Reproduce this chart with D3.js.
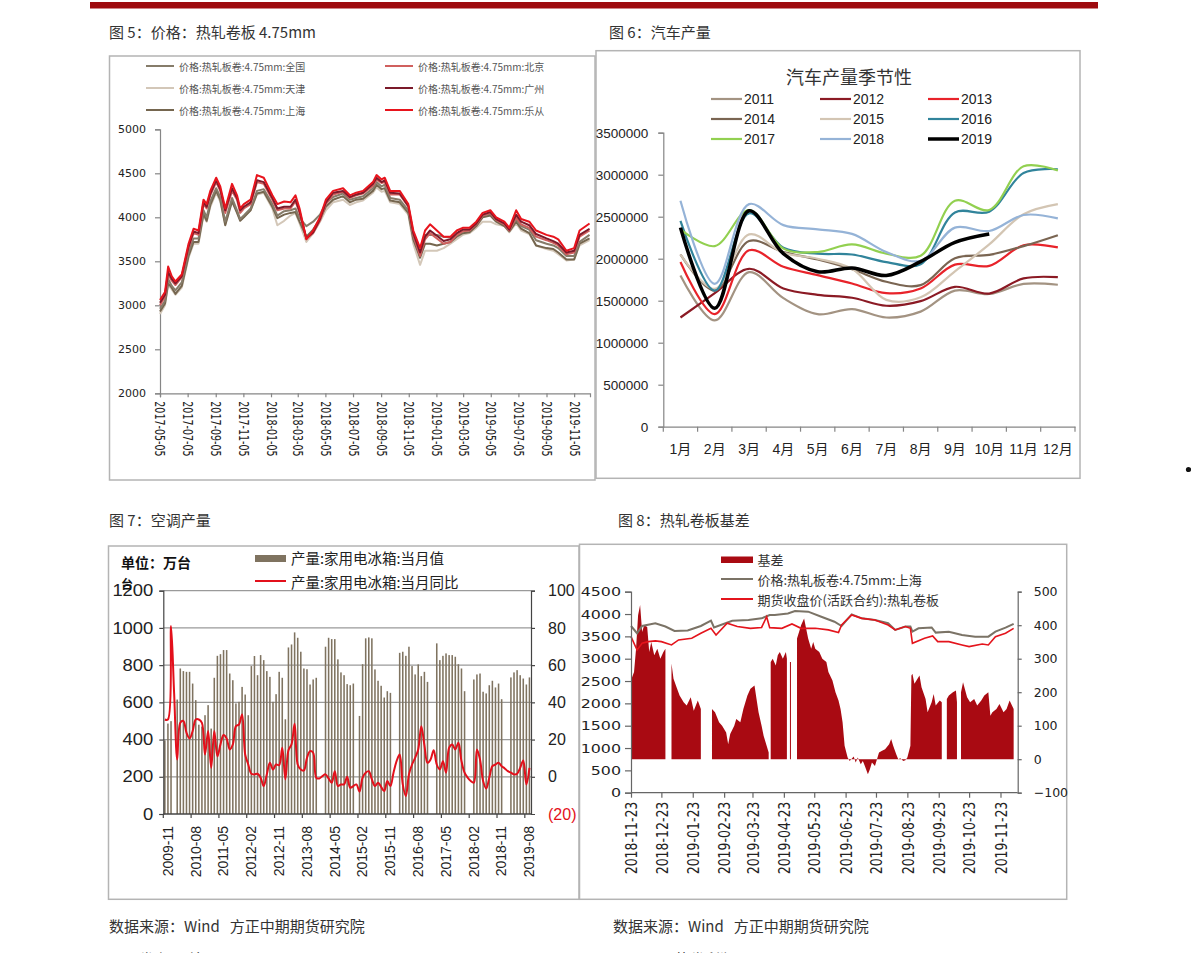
<!DOCTYPE html>
<html><head><meta charset="utf-8">
<script src="https://cdn.jsdelivr.net/npm/d3@7"></script>
<style>body{margin:0;background:#fff;}svg{display:block;}</style>
</head><body><svg id="c" width="1191" height="953"></svg>
<script>
// ---------------- DATA ----------------
// Fig 5: HRC 4.75mm prices
const p1Dates = ['2017-05-05','2017-05-16','2017-05-23','2017-05-31','2017-06-08','2017-06-22','2017-07-07','2017-07-18','2017-07-29','2017-08-09','2017-08-16','2017-08-24','2017-09-06','2017-09-15','2017-09-26','2017-10-11','2017-10-22','2017-10-29','2017-11-06','2017-11-21','2017-12-05','2017-12-20','2018-01-08','2018-01-19','2018-02-03','2018-02-17','2018-02-28','2018-03-09','2018-03-24','2018-04-08','2018-04-23','2018-05-06','2018-05-22','2018-06-13','2018-06-28','2018-07-12','2018-07-27','2018-08-18','2018-08-26','2018-09-06','2018-09-13','2018-09-25','2018-10-16','2018-11-04','2018-11-15','2018-11-30','2018-12-11','2018-12-22','2019-01-06','2019-01-21','2019-02-05','2019-02-19','2019-03-04','2019-03-19','2019-04-03','2019-04-17','2019-05-04','2019-05-17','2019-06-04','2019-06-15','2019-06-30','2019-07-11','2019-07-29','2019-08-13','2019-09-05','2019-09-20','2019-10-01','2019-10-19','2019-11-05','2019-11-17','2019-12-09'];
const p1Lecong  = [3060,3150,3440,3330,3270,3350,3700,3870,3850,4200,4150,4300,4450,4350,4100,4380,4250,4100,4150,4200,4480,4450,4250,4150,4180,4170,4250,4100,3750,3850,4000,4200,4300,4330,4250,4280,4300,4400,4480,4430,4450,4300,4300,4150,3850,3650,3850,3920,3850,3780,3780,3850,3880,3880,3950,4050,4080,4000,3950,3880,4080,3980,3950,3850,3800,3780,3750,3620,3650,3850,3930];
const p1Beijing = [3000,3100,3350,3280,3230,3320,3650,3820,3800,4150,4100,4250,4400,4300,4050,4300,4200,4050,4100,4150,4400,4380,4200,4080,4100,4100,4180,4050,3760,3820,3960,4150,4260,4290,4220,4250,4270,4360,4430,4390,4400,4260,4260,4120,3800,3560,3750,3820,3760,3700,3720,3800,3840,3850,3920,4020,4050,3970,3920,3850,4000,3920,3880,3780,3740,3710,3680,3580,3600,3780,3850];
const p1Guangzhou=[3030,3120,3380,3300,3250,3330,3670,3840,3820,4170,4120,4270,4420,4320,4080,4330,4220,4080,4120,4170,4420,4400,4220,4100,4120,4120,4200,4070,3760,3830,3980,4170,4280,4300,4230,4260,4280,4380,4450,4400,4420,4280,4270,4130,3820,3600,3780,3850,3790,3730,3750,3820,3860,3860,3930,4030,4060,3980,3930,3860,4030,3950,3910,3810,3760,3730,3700,3600,3620,3800,3870];
const p1National= [2960,3050,3300,3220,3170,3260,3600,3760,3760,4080,4000,4180,4330,4230,3950,4220,4080,3980,4020,4100,4300,4320,4150,4020,4070,4080,4100,3990,3900,3950,4030,4160,4230,4270,4200,4220,4240,4330,4400,4350,4370,4220,4200,4080,3780,3580,3800,3800,3800,3780,3770,3800,3840,3850,3930,4020,4040,3970,3920,3860,3980,3900,3860,3740,3700,3680,3650,3560,3560,3720,3800];
const p1Shanghai= [2930,3020,3250,3200,3130,3220,3560,3720,3720,4040,3960,4140,4300,4200,3910,4180,4050,3960,4000,4080,4270,4290,4120,3990,4030,4050,4060,3950,3780,3860,3980,4120,4200,4240,4170,4200,4210,4300,4370,4320,4330,4190,4170,4050,3750,3540,3700,3700,3680,3700,3720,3780,3820,3830,3900,4000,4020,3950,3900,3840,3950,3870,3820,3680,3650,3640,3600,3520,3520,3700,3760];
const p1Tianjin = [2900,3000,3230,3180,3120,3200,3540,3700,3700,4020,3950,4120,4280,4180,3920,4200,4060,3970,4010,4080,4260,4280,4100,3910,3960,4020,4050,3930,3720,3820,3950,4080,4170,4200,4140,4170,4190,4280,4340,4290,4300,4170,4150,4030,3700,3460,3620,3620,3620,3650,3700,3750,3800,3820,3880,3950,3950,3920,3900,3830,3930,3850,3810,3680,3640,3620,3580,3510,3520,3680,3740];
const p1XTicks = ['2017-05-05','2017-07-05','2017-09-05','2017-11-05','2018-01-05','2018-03-05','2018-05-05','2018-07-05','2018-09-05','2018-11-05','2019-01-05','2019-03-05','2019-05-05','2019-07-05','2019-09-05','2019-11-05'];
const p1YTicks = [2000,2500,3000,3500,4000,4500,5000];

// Fig 6: car production seasonality
const p2Months = ['1月','2月','3月','4月','5月','6月','7月','8月','9月','10月','11月','12月'];
const car2011 = [1800000,1265000,1840000,1530000,1340000,1400000,1300000,1370000,1620000,1580000,1700000,1690000];
const car2012 = [1300000,1590000,1880000,1645000,1570000,1535000,1440000,1495000,1665000,1585000,1765000,1780000];
const car2013 = [1960000,1340000,2100000,1905000,1805000,1705000,1590000,1645000,1930000,1915000,2160000,2135000];
const car2014 = [2050000,1620000,2210000,2080000,1990000,1875000,1725000,1685000,2005000,2045000,2150000,2280000];
const car2015 = [2050000,1640000,2290000,2070000,2000000,1880000,1510000,1540000,1850000,2170000,2530000,2650000];
const car2016 = [2450000,1620000,2540000,2130000,2060000,2050000,1960000,1935000,2550000,2560000,3020000,3065000];
const car2017 = [2350000,2150000,2580000,2120000,2080000,2170000,2060000,2035000,2690000,2580000,3100000,3050000];
const car2018 = [2690000,1700000,2650000,2400000,2350000,2295000,2080000,1975000,2370000,2330000,2520000,2480000];
const car2019 = [2370000,1410000,2570000,2060000,1845000,1890000,1800000,1965000,2195000,2295000];
const p2YTicks = [0,500000,1000000,1500000,2000000,2500000,3000000,3500000];

// Fig 7: refrigerator production (monthly from 2009-11)
const p3Start = '2009-11';
const p3Bars = [396,486,499,null,615,782,768,764,764,701, 612,480,470,531,585,459,732,850,859,881, 881,755,719,594,603,683,642,531,795,849, 746,854,827,768,737,603,644,764,732,509, 895,911,976,947,872,782,778,696,723,732, null,null,899,947,940,940,831,761,746,698, 692,701,null,527,805,944,949,944,777,716, 689,626,660,651,null,null,866,872,850,899, 795,750,804,741,764,710,null,null,917,827, 850,863,854,854,845,805,782,660,null,null, 723,750,755,657,648,692,716,680,701,617, null,null,734,761,773,746,728,696,734];
const p3Yoy = [30.8,30.8,81,45,9.3,29,30,23.7,20.6,24.6, 30.8,30.8,29,12,24.6,4.8,24.6,11,17.4,22.4, 20.6,14.7,17.4,27.2,28.1,33.5,12,6.6,1.6,1.3, 1.6,-0.5,-5,1.3,7.5,3.9,6.6,6.3,15.6,-1.4, 14.3,17.4,28.5,6.6,3.9,3.4,10.2,13.8,12.9,-0.5, -0.9,0.4,1.3,-0.9,-3.2,3,-5,-4.1,-4.1,0, -5.9,-5,-4.1,-8,-0.5,2.2,3,-1.4,-5,-3.2, -5.4,-7.7,-2.3,-5,2.2,8.4,12,-4.1,-10.4,1.3, 6.6,10.2,14.7,27.2,17,7.5,9.3,14.3,6.6,3.9, 8.4,2.2,15.6,17.4,14.7,18.3,8.4,2.2,-0.5,-2.3, -3.2,14.7,9.3,-2.3,-6.3,-0.5,5.7,6.6,7.5,5.7, 4.5,3,2.2,1.3,1.6,4.8,8.8,-4.1,4.8];
const p3LeftTicks = [0,200,400,600,800,1000,1200];
const p3RightTicks = [-20,0,20,40,60,80,100];

// Fig 8: HRC basis
const p4BasisDates = ['2018-11-23','2018-11-26','2018-11-28','2018-11-30','2018-12-02','2018-12-04','2018-12-06','2018-12-09','2018-12-11','2018-12-13','2018-12-16','2018-12-19','2018-12-22','2018-12-25','2018-12-27','2018-12-28','2019-01-02','2019-01-04','2019-01-07','2019-01-10','2019-01-14','2019-01-17','2019-01-21','2019-01-24','2019-01-28','2019-01-31','2019-02-01','2019-02-11','2019-02-14','2019-02-18','2019-02-21','2019-02-25','2019-02-27','2019-03-01','2019-03-05','2019-03-07','2019-03-11','2019-03-14','2019-03-18','2019-03-21','2019-03-25','2019-03-27','2019-03-29','2019-04-01','2019-04-03','2019-04-08','2019-04-09','2019-04-10','2019-04-12','2019-04-15','2019-04-17','2019-04-19','2019-04-22','2019-04-25','2019-04-26','2019-04-28','2019-04-29','2019-04-30','2019-05-01','2019-05-06','2019-05-08','2019-05-10','2019-05-13','2019-05-15','2019-05-17','2019-05-20','2019-05-22','2019-05-24','2019-05-28','2019-05-31','2019-06-04','2019-06-06','2019-06-10','2019-06-13','2019-06-16','2019-06-18','2019-06-20','2019-06-22','2019-06-25','2019-06-27','2019-07-01','2019-07-03','2019-07-05','2019-07-08','2019-07-10','2019-07-12','2019-07-15','2019-07-17','2019-07-19','2019-07-22','2019-07-24','2019-07-26','2019-07-29','2019-08-01','2019-08-05','2019-08-07','2019-08-09','2019-08-12','2019-08-14','2019-08-16','2019-08-19','2019-08-21','2019-08-23','2019-08-26','2019-08-27','2019-08-28','2019-08-30','2019-09-02','2019-09-04','2019-09-06','2019-09-10','2019-09-12','2019-09-16','2019-09-18','2019-09-20','2019-09-24','2019-09-26','2019-09-27','2019-10-01','2019-10-03','2019-10-07','2019-10-10','2019-10-11','2019-10-12','2019-10-15','2019-10-17','2019-10-21','2019-10-24','2019-10-28','2019-10-31','2019-11-04','2019-11-07','2019-11-11','2019-11-13','2019-11-15','2019-11-19','2019-11-22','2019-11-26','2019-11-29','2019-12-02','2019-12-06'];
const p4Basis = [236,260,330,430,460,380,400,395,320,350,310,330,300,320,330,null,286,240,215,190,170,160,185,145,175,150,null,150,140,110,100,80,45,75,100,120,110,150,190,210,220,180,140,100,70,20,null,290,300,280,310,320,300,320,300,null,290,290,null,360,380,400,420,390,360,330,350,330,320,300,290,260,235,200,175,150,110,40,5,-5,8,-10,5,-15,-5,-20,-45,-30,-10,-20,0,20,25,30,45,60,40,15,0,3,-5,-3,5,40,250,255,225,240,250,215,180,140,170,195,160,175,170,null,180,190,200,205,170,null,200,230,185,170,180,160,175,190,200,130,140,150,165,140,150,175,150];
const p4ShDates = ['2018-11-23','2018-11-29','2018-12-04','2018-12-17','2018-12-27','2019-01-05','2019-01-18','2019-01-31','2019-02-10','2019-02-13','2019-03-03','2019-03-19','2019-04-01','2019-04-09','2019-04-14','2019-04-27','2019-05-04','2019-05-17','2019-05-30','2019-06-12','2019-06-19','2019-06-29','2019-07-09','2019-07-22','2019-08-04','2019-08-11','2019-08-21','2019-08-26','2019-08-28','2019-09-03','2019-09-16','2019-09-20','2019-10-03','2019-10-16','2019-10-29','2019-11-11','2019-11-18','2019-11-28','2019-12-06'];
const p4Shanghai = [3732,3570,3732,3793,3720,3620,3630,3732,3851,3700,3851,3866,3903,3978,3978,4014,4068,4053,3940,3828,3732,3993,3903,3866,3793,3645,3720,3720,3605,3680,3700,3584,3605,3531,3494,3494,3605,3695,3778];
const p4FutDates = ['2018-11-23','2018-11-29','2018-12-04','2018-12-10','2018-12-17','2018-12-23','2019-01-02','2019-01-09','2019-01-22','2019-01-31','2019-02-10','2019-02-15','2019-02-26','2019-03-08','2019-03-21','2019-04-01','2019-04-06','2019-04-09','2019-04-21','2019-05-01','2019-05-10','2019-05-24','2019-06-06','2019-06-16','2019-06-19','2019-06-29','2019-07-09','2019-07-22','2019-08-04','2019-08-11','2019-08-21','2019-08-26','2019-08-28','2019-09-09','2019-09-17','2019-09-22','2019-10-03','2019-10-16','2019-10-23','2019-11-05','2019-11-11','2019-11-18','2019-11-28','2019-12-06'];
const p4Futures = [3494,3195,3345,3382,3400,3382,3307,3420,3457,3569,3680,3531,3793,3720,3680,3700,3940,3695,3680,3778,3680,3680,3645,3584,3755,3978,3903,3866,3755,3645,3720,3680,3345,3457,3509,3382,3382,3307,3270,3330,3307,3494,3569,3680];
const p4XTicks = ['2018-11-23','2018-12-23','2019-01-23','2019-02-23','2019-03-23','2019-04-23','2019-05-23','2019-06-23','2019-07-23','2019-08-23','2019-09-23','2019-10-23','2019-11-23'];
const p4LeftTicks = [0,500,1000,1500,2000,2500,3000,3500,4000,4500];
const p4RightTicks = [-100,0,100,200,300,400,500];

// ---------------- DRAW ----------------
const svg = d3.select('#c');
const parse = d3.timeParse('%Y-%m-%d');
const CJK = '"Noto Sans CJK SC", sans-serif';
const AX = '#868686';
const fmtInt = d3.format('d');

function frame(x0, y0, x1, y1) {
  svg.append('rect').attr('x', x0).attr('y', y0).attr('width', x1 - x0).attr('height', y1 - y0)
    .attr('fill', 'none').attr('stroke', '#b4b4b4').attr('stroke-width', 1.5);
}
function txt(x, y, s, size, opts = {}) {
  return svg.append('text').attr('x', x).attr('y', y).text(s)
    .attr('font-family', opts.family || CJK).attr('font-size', size)
    .attr('fill', opts.fill || '#333').attr('text-anchor', opts.anchor || 'start')
    .attr('dominant-baseline', 'central').attr('font-weight', opts.weight || 'normal')
    .style('white-space', 'pre');
}
function styleAxis(g, color, family, size) {
  g.attr('font-family', family).attr('font-size', size);
  g.select('.domain').attr('stroke', color).attr('stroke-width', 1.2);
  g.selectAll('.tick line').attr('stroke', color).attr('stroke-width', 1.2);
  g.selectAll('.tick text').attr('fill', '#222');
}

// top bar
svg.append('rect').attr('x', 90).attr('y', 2).attr('width', 1008).attr('height', 6.5).attr('fill', '#9e0b0f');
svg.append('circle').attr('cx', 1188.5).attr('cy', 469.5).attr('r', 2.6).attr('fill', '#111');

// titles & captions
txt(109, 31, '图 5：价格：热轧卷板 4.75mm', 15);
txt(609, 31, '图 6：汽车产量', 15);
txt(109, 519, '图 7：空调产量', 15);
txt(618, 519, '图 8：热轧卷板基差', 15);
txt(109, 925, '数据来源：Wind   方正中期期货研究院', 15);
txt(613, 925, '数据来源：Wind   方正中期期货研究院', 15);
txt(109, 958, '图 9 卷 螺价差', 15);
txt(625, 958, '图 10：热卷利润', 15);

// ===== Chart 1 =====
frame(109.5, 56, 595, 480);
{
  const x = d3.scaleTime().domain([parse('2017-05-05'), parse('2019-12-10')]).range([160, 590]);
  const y = d3.scaleLinear().domain([2000, 5000]).range([393.3, 129.3]);
  const gy = svg.append('g').attr('transform', 'translate(160,0)')
    .call(d3.axisLeft(y).tickValues(p1YTicks).tickSize(5).tickPadding(9).tickFormat(fmtInt));
  styleAxis(gy, AX, 'DejaVu Sans', 11);
  const gx = svg.append('g').attr('transform', 'translate(0,393.3)')
    .call(d3.axisBottom(x).tickValues(p1XTicks.map(parse)).tickSize(4).tickFormat(d3.timeFormat('%Y-%m-%d')));
  styleAxis(gx, AX, 'DejaVu Sans', 9.5);
  gx.selectAll('.tick text').attr('y', null).attr('dy', '0.35em').attr('text-anchor', 'start')
    .attr('transform', 'translate(0,8) scale(1.5,1) rotate(90)');
  const series = [
    {name: '价格:热轧板卷:4.75mm:全国', v: p1National, c: '#867c6a'},
    {name: '价格:热轧板卷:4.75mm:天津', v: p1Tianjin, c: '#d3c7b8'},
    {name: '价格:热轧板卷:4.75mm:上海', v: p1Shanghai, c: '#75664f'},
    {name: '价格:热轧板卷:4.75mm:北京', v: p1Beijing, c: '#d0605e'},
    {name: '价格:热轧板卷:4.75mm:广州', v: p1Guangzhou, c: '#7b1a2a'},
    {name: '价格:热轧板卷:4.75mm:乐从', v: p1Lecong, c: '#e8141d'}
  ];
  const dates = p1Dates.map(parse);
  const line = d3.line().x((d, i) => x(dates[i])).y(d => y(d));
  [1, 2, 0, 3, 4, 5].forEach(k => {
    svg.append('path').attr('d', line(series[k].v)).attr('fill', 'none')
      .attr('stroke', series[k].c).attr('stroke-width', 2).attr('stroke-linejoin', 'round');
  });
  series.forEach((s, i) => {
    const col = Math.floor(i / 3), row = i % 3;
    const lx = col ? 385 : 146, ly = 66 + row * 22;
    svg.append('line').attr('x1', lx).attr('x2', lx + 28).attr('y1', ly).attr('y2', ly)
      .attr('stroke', s.c).attr('stroke-width', 2);
    txt(lx + 33, ly, s.name, 10, {fill: '#555'});
  });
}

// ===== Chart 2 =====
frame(596, 50.7, 1080, 478.3);
{
  const x = d3.scaleBand().domain(p2Months).range([663.3, 1075]);
  const y = d3.scaleLinear().domain([0, 3500000]).range([426.7, 132.7]);
  const gy = svg.append('g').attr('transform', 'translate(663.3,0)')
    .call(d3.axisLeft(y).tickValues(p2YTicks).tickSize(5).tickPadding(10).tickFormat(fmtInt));
  styleAxis(gy, AX, 'Liberation Sans', 13.5);
  const gx = svg.append('g').attr('transform', 'translate(0,426.7)')
    .call(d3.axisBottom(x).tickSize(0).tickPadding(17));
  styleAxis(gx, AX, '"Liberation Sans","Noto Sans CJK SC"', 14);
  d3.range(p2Months.length + 1).forEach(i => {
    const xx = x.range()[0] + i * x.step();
    gx.append('line').attr('x1', xx).attr('x2', xx).attr('y1', 0).attr('y2', 5).attr('stroke', AX).attr('stroke-width', 1.2);
  });
  const years = [
    {n: '2011', v: car2011, c: '#a39382', w: 2.2},
    {n: '2012', v: car2012, c: '#8b1a24', w: 2.2},
    {n: '2013', v: car2013, c: '#e8232a', w: 2.2},
    {n: '2014', v: car2014, c: '#7a6552', w: 2.2},
    {n: '2015', v: car2015, c: '#d3c5b3', w: 2.2},
    {n: '2016', v: car2016, c: '#31849b', w: 2.2},
    {n: '2017', v: car2017, c: '#92d050', w: 2.2},
    {n: '2018', v: car2018, c: '#95b3d7', w: 2.2},
    {n: '2019', v: car2019, c: '#000000', w: 3.5}
  ];
  const line = d3.line().x((d, i) => x(p2Months[i]) + x.bandwidth() / 2).y(d => y(d)).curve(d3.curveCatmullRom.alpha(0.5));
  years.forEach(s => {
    svg.append('path').attr('d', line(s.v)).attr('fill', 'none').attr('stroke', s.c).attr('stroke-width', s.w);
  });
  txt(849, 76, '汽车产量季节性', 18, {anchor: 'middle', fill: '#333'});
  const colX = [711, 820, 928];
  years.forEach((s, i) => {
    const lx = colX[i % 3], ly = 99 + Math.floor(i / 3) * 20;
    svg.append('line').attr('x1', lx).attr('x2', lx + 31).attr('y1', ly).attr('y2', ly)
      .attr('stroke', s.c).attr('stroke-width', s.w);
    txt(lx + 33, ly, s.n, 14, {family: 'Liberation Sans', fill: '#222'});
  });
}

// ===== Chart 3 =====
frame(108.5, 546, 579, 899.3);
{
  const mp = d3.timeParse('%Y-%m');
  const months = d3.timeMonth.range(mp(p3Start), d3.timeMonth.offset(mp(p3Start), p3Bars.length));
  const fmt = d3.timeFormat('%Y-%m');
  const cats = months.map(fmt);
  const x = d3.scaleBand().domain(cats).range([163.3, 531]).paddingInner(0.5).paddingOuter(0.25);
  const yL = d3.scaleLinear().domain([0, 1200]).range([814, 590.7]);
  const yR = d3.scaleLinear().domain([-20, 100]).range([814, 590.7]);
  // grid
  svg.append('g').selectAll('line').data(p3LeftTicks.filter(d => d > 0)).join('line')
    .attr('x1', 163.3).attr('x2', 531).attr('y1', d => yL(d)).attr('y2', d => yL(d))
    .attr('stroke', '#9a9a9a').attr('stroke-width', 1.2);
  // bars
  svg.append('g').selectAll('rect').data(p3Bars.map((v, i) => ({v, c: cats[i]})).filter(d => d.v !== null)).join('rect')
    .attr('x', d => x(d.c)).attr('width', x.bandwidth())
    .attr('y', d => yL(d.v)).attr('height', d => yL(0) - yL(d.v)).attr('fill', '#7f7360');
  // line
  const line = d3.line().x((d, i) => x(cats[i]) + x.bandwidth() / 2).y(d => yR(d)).curve(d3.curveCatmullRom.alpha(0.5));
  svg.append('path').attr('d', line(p3Yoy)).attr('fill', 'none').attr('stroke', '#e3101b').attr('stroke-width', 2);
  // axes
  const gl = svg.append('g').attr('transform', 'translate(163.3,0)')
    .call(d3.axisLeft(yL).tickValues(p3LeftTicks).tickSize(4).tickPadding(7).tickFormat(fmtInt));
  styleAxis(gl, '#444', 'Liberation Sans', 16);
  gl.selectAll('.tick text').attr('x', null).attr('transform', 'translate(-10,0) scale(1.15,1)');
  const gr = svg.append('g').attr('transform', 'translate(531,0)')
    .call(d3.axisRight(yR).tickValues(p3RightTicks).tickSize(4).tickPadding(13)
      .tickFormat(d => d < 0 ? '(' + Math.abs(d) + ')' : fmtInt(d)));
  styleAxis(gr, '#444', 'Liberation Sans', 16);
  gr.selectAll('.tick text').attr('fill', d => d < 0 ? '#e3101b' : '#222');
  gr.selectAll('.tick').filter(d => d === -20).select('line').remove();
  const tickCats = cats.filter((c, i) => i % 9 === 0);
  const gx = svg.append('g').attr('transform', 'translate(0,814)');
  gx.append('line').attr('x1', 163.3).attr('x2', 531).attr('stroke', '#444').attr('stroke-width', 1.4);
  tickCats.forEach(c => {
    const xx = x(c) - x.step() * x.paddingInner() / 2;
    gx.append('line').attr('x1', xx).attr('x2', xx).attr('y1', 0).attr('y2', 4).attr('stroke', '#444').attr('stroke-width', 1.2);
    gx.append('text').text(c).attr('font-family', 'Liberation Sans').attr('font-size', 14).attr('fill', '#222')
      .attr('text-anchor', 'end').attr('dy', '0.35em')
      .attr('transform', `translate(${xx + 4},12) scale(1.1,1) rotate(-90)`);
  });
  // legend
  svg.append('rect').attr('x', 255).attr('y', 555).attr('width', 31).attr('height', 7).attr('fill', '#7f7360');
  txt(291, 557.5, '产量:家用电冰箱:当月值', 14.5, {fill: '#222'});
  svg.append('line').attr('x1', 255).attr('x2', 286).attr('y1', 581).attr('y2', 581).attr('stroke', '#e3101b').attr('stroke-width', 2);
  txt(291, 581, '产量:家用电冰箱:当月同比', 14.5, {fill: '#222'});
  txt(121, 562, '单位：万台', 14, {fill: '#111', weight: 'bold'});
  txt(121, 583, '台', 12, {fill: '#111', weight: 'bold'});
}

// ===== Chart 4 =====
frame(579.5, 544.3, 1066.7, 899.3);
{
  const x = d3.scaleTime().domain([parse('2018-11-23'), parse('2019-12-10')]).range([631, 1017.7]);
  const yL = d3.scaleLinear().domain([0, 4500]).range([792.7, 591.7]);
  const yR = d3.scaleLinear().domain([-100, 500]).range([792.7, 591.7]);
  const bd = p4BasisDates.map(parse);
  const area = d3.area().defined(d => d !== null).x((d, i) => x(bd[i])).y0(yR(0)).y1(d => yR(d));
  svg.append('path').attr('d', area(p4Basis)).attr('fill', '#a90a12');
  const sd = p4ShDates.map(parse), fd = p4FutDates.map(parse);
  svg.append('path').attr('d', d3.line().x((d, i) => x(sd[i])).y(d => yL(d))(p4Shanghai))
    .attr('fill', 'none').attr('stroke', '#7b7366').attr('stroke-width', 2);
  svg.append('path').attr('d', d3.line().x((d, i) => x(fd[i])).y(d => yL(d))(p4Futures))
    .attr('fill', 'none').attr('stroke', '#e4141c').attr('stroke-width', 1.6);
  const gl = svg.append('g').attr('transform', 'translate(631,0)')
    .call(d3.axisLeft(yL).tickValues(p4LeftTicks).tickSize(6).tickPadding(8).tickFormat(fmtInt));
  styleAxis(gl, '#666', 'DejaVu Sans', 13);
  gl.selectAll('.tick text').attr('x', null).attr('transform', 'translate(-10,0) scale(1.22,1)');
  const gr = svg.append('g').attr('transform', 'translate(1017.7,0)')
    .call(d3.axisRight(yR).tickValues(p4RightTicks).tickSize(4).tickPadding(12).tickFormat(fmtInt));
  styleAxis(gr, '#666', 'DejaVu Sans', 12.5);
  gr.selectAll('.tick text').attr('fill', '#222');
  const gx = svg.append('g').attr('transform', 'translate(0,792.7)')
    .call(d3.axisBottom(x).tickValues(p4XTicks.map(parse)).tickSize(5).tickFormat(d3.timeFormat('%Y-%m-%d')));
  styleAxis(gx, '#666', 'DejaVu Sans', 12.5);
  gx.select('.domain').attr('d', `M631,0H1017.7`);
  gx.selectAll('.tick text').attr('y', null).attr('dy', '0.35em').attr('text-anchor', 'end')
    .attr('transform', 'translate(0,9) scale(1.3,1) rotate(-90)');
  // legend
  svg.append('rect').attr('x', 721).attr('y', 556.5).attr('width', 32).attr('height', 6.5).attr('fill', '#a90a12');
  txt(757.5, 559, '基差', 13, {fill: '#333'});
  svg.append('line').attr('x1', 721).attr('x2', 753).attr('y1', 579).attr('y2', 579).attr('stroke', '#7b7366').attr('stroke-width', 2);
  txt(757.5, 579, '价格:热轧板卷:4.75mm:上海', 13, {fill: '#333'});
  svg.append('line').attr('x1', 721).attr('x2', 753).attr('y1', 599).attr('y2', 599).attr('stroke', '#e4141c').attr('stroke-width', 2);
  txt(757.5, 599, '期货收盘价(活跃合约):热轧卷板', 13, {fill: '#333'});
}
</script></body></html>
